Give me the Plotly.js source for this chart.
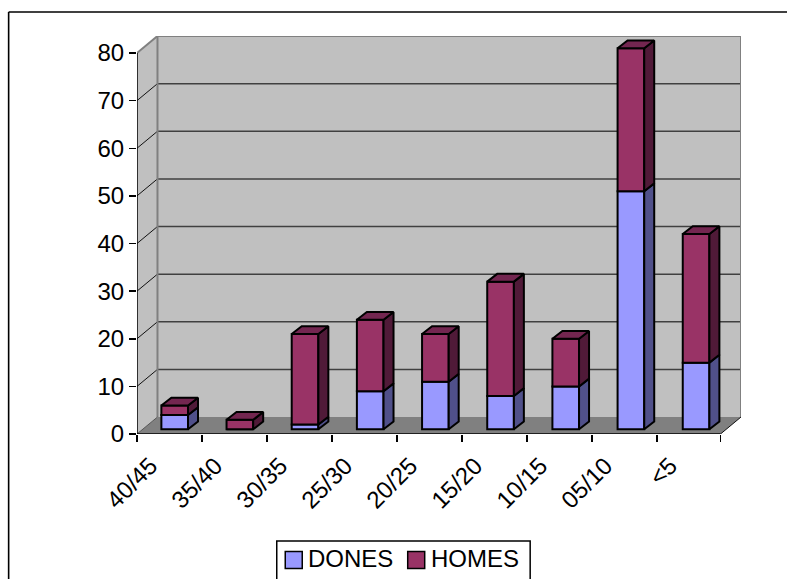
<!DOCTYPE html>
<html>
<head>
<meta charset="utf-8">
<script src="https://cdn.plot.ly/plotly-3.0.1.min.js"></script>
<style>html,body{margin:0;padding:0;background:#fff;overflow:hidden}</style>
</head>
<body>
<div id="chart" style="width:787px;height:579px"></div>
<script>
const categories = ['40/45','35/40','30/35','25/30','20/25','15/20','10/15','05/10','<5'];
const dones = [3, 0, 1, 8, 10, 7, 9, 50, 14];
const homes = [2, 2, 19, 15, 10, 24, 10, 30, 27];
const yTicks = [0,10,20,30,40,50,60,70,80];
const seriesNames = ['DONES','HOMES'];
const seriesColors = ['#9999ff','#993366'];

const W = 787, H = 579;
const left = 136.7, bottom = 434, pxCat = 65, pxUnit = 4.7625;
const wallDx = 20.5/pxCat, wallDy = 17/pxUnit;   // depth of the plot box, in axis units
const barDx = 10/pxCat, barDy = 7.8/pxUnit;      // depth of one bar, in axis units
const barBase = 4.7/pxUnit, barW = 0.41, barStart = 0.375, barPitch = 1.003;
const xEnd = 8.98, yEnd = 80;
const xMax = xEnd + wallDx, yMax = yEnd + wallDy;
const plotW = xMax*pxCat, plotH = yMax*pxUnit;
const labelShift = 19/pxCat;

const xl = categories.map((_,i)=> i*barPitch + barStart);
const xr = xl.map(v=> v + barW);
const xc = xl.map(v=> v + barW/2);

function stackBars(vals, under, color, name){
  return {type:'bar', x:xc, y:vals, base:under.map(u=>u+barBase), width:categories.map(()=>barW),
    name:name, showlegend:false, marker:{color:color, line:{color:'#000', width:2}}, hoverinfo:'skip'};
}
function poly(out, pts){ pts.forEach(p=>{out.x.push(p[0]); out.y.push(p[1]);}); out.x.push(pts[0][0]); out.y.push(pts[0][1]); out.x.push(null); out.y.push(null); }
function faceTrace(o, color){
  return {type:'scatter', mode:'lines', x:o.x, y:o.y, fill:'toself', fillcolor:color,
    line:{color:'#000', width:2}, showlegend:false, hoverinfo:'skip', cliponaxis:false};
}
const sideD = {x:[],y:[]}, sideH = {x:[],y:[]}, topH = {x:[],y:[]};
categories.forEach((_,i)=>{
  const b0 = barBase, t0 = barBase + dones[i], t1 = t0 + homes[i];
  if(dones[i] > 0) poly(sideD, [[xr[i],b0],[xr[i]+barDx,b0+barDy],[xr[i]+barDx,t0+barDy],[xr[i],t0]]);
  poly(sideH, [[xr[i],t0],[xr[i]+barDx,t0+barDy],[xr[i]+barDx,t1+barDy],[xr[i],t1]]);
  poly(topH, [[xl[i],t1],[xl[i]+barDx,t1+barDy],[xr[i]+barDx,t1+barDy],[xr[i],t1]]);
});

const traces = [
  stackBars(dones, dones.map(()=>0), seriesColors[0], seriesNames[0]),
  stackBars(homes, dones, seriesColors[1], seriesNames[1]),
  faceTrace(sideD, '#50508a'),
  faceTrace(sideH, '#501a38'),
  faceTrace(topH, '#732650')
];

function path(pts){ return 'M'+pts.map(p=>p[0]+','+p[1]).join('L')+'Z'; }
const shapes = [
  {type:'path', xref:'x', yref:'y', layer:'below', path:path([[0,0],[wallDx,wallDy],[xMax,wallDy],[xMax,yMax],[wallDx,yMax],[0,yEnd]]), fillcolor:'#c0c0c0', line:{width:0}},
  {type:'path', xref:'x', yref:'y', layer:'below', path:path([[0,0],[xEnd,0],[xMax,wallDy],[wallDx,wallDy]]), fillcolor:'#808080', line:{width:0}}
];
yTicks.slice(1,-1).forEach(v=>{
  shapes.push({type:'line', xref:'x', yref:'y', layer:'below', x0:wallDx, x1:xMax, y0:v+wallDy, y1:v+wallDy, line:{color:'#404040', width:1.5}});
  shapes.push({type:'line', xref:'x', yref:'y', layer:'below', x0:0, x1:wallDx, y0:v, y1:v+wallDy, line:{color:'#111', width:1}});
});
const grey = {color:'#808080', width:2};
shapes.push(
  {type:'line', xref:'x', yref:'y', layer:'below', x0:wallDx, x1:wallDx, y0:wallDy, y1:yMax, line:grey},
  {type:'line', xref:'x', yref:'y', layer:'below', x0:wallDx, x1:xMax, y0:yMax, y1:yMax, line:grey},
  {type:'line', xref:'x', yref:'y', layer:'below', x0:xMax, x1:xMax, y0:wallDy, y1:yMax, line:grey},
  {type:'line', xref:'x', yref:'y', layer:'below', x0:0, x1:wallDx, y0:yEnd, y1:yMax, line:grey},
  {type:'line', xref:'x', yref:'y', layer:'below', x0:0, x1:wallDx, y0:0, y1:wallDy, line:{color:'#555', width:1}},
  {type:'line', xref:'x', yref:'y', layer:'below', x0:xEnd, x1:xMax, y0:0, y1:wallDy, line:{color:'#111', width:1}},
  {type:'line', xref:'x', yref:'y', x0:0, x1:0, y0:0, y1:yEnd, line:{color:'#000', width:1.5}},
  {type:'line', xref:'x', yref:'y', x0:0, x1:xEnd, y0:0, y1:0, line:{color:'#000', width:1.5}}
);
// chart frame: open on the right and at the bottom
const px = v => (v-left)/plotW, py = v => (bottom-v)/plotH;
shapes.push(
  {type:'line', xref:'paper', yref:'paper', x0:px(8.3), x1:px(8.3), y0:py(12), y1:py(H), line:{color:'#000', width:1.6}},
  {type:'line', xref:'paper', yref:'paper', x0:px(8.3), x1:px(W), y0:py(12), y1:py(12), line:{color:'#000', width:1.6}}
);

const font = {family:'"Liberation Sans", Arial, sans-serif', size:24, color:'#000'};

// legend box, running off the bottom of the page as in the reference
shapes.push({type:'rect', xref:'paper', yref:'paper', x0:px(276.5), x1:px(530), y0:py(541), y1:py(H+6), fillcolor:'#fff', line:{color:'#000', width:1.5}});
const legendSwatchX = [285, 407.5], legendTextX = [307, 430];
const annotations = [];
seriesNames.forEach((n,i)=>{
  shapes.push({type:'rect', xref:'paper', yref:'paper', x0:px(legendSwatchX[i]), x1:px(legendSwatchX[i]+17), y0:py(551.5), y1:py(568.5),
    fillcolor:seriesColors[i], line:{color:'#000', width:1.5}});
  annotations.push({xref:'paper', yref:'paper', x:px(legendTextX[i]), y:py(558.5), xanchor:'left', yanchor:'middle',
    text:n, showarrow:false, font:font, borderpad:0});
});

const layout = {
  width:W, height:H, showlegend:false, barmode:'overlay', hovermode:false,
  paper_bgcolor:'#fff', plot_bgcolor:'#fff', font:font,
  margin:{l:left, r:W-left-plotW, t:bottom-plotH, b:H-bottom, pad:0, autoexpand:false},
  xaxis:{range:[0,xMax], autorange:false, showgrid:false, zeroline:false, showline:false, fixedrange:true,
    tickmode:'array', tickvals:categories.map((_,i)=>i+0.5-labelShift), ticktext:categories, ticks:'', tickangle:-45, tickfont:font, ticklabelstandoff:12,
    minor:{tickmode:'array', tickvals:categories.map((_,i)=>i).concat([xEnd]), ticks:'outside', ticklen:7, tickwidth:1.5, tickcolor:'#000', showgrid:false}},
  yaxis:{range:[0,yMax], autorange:false, showgrid:false, zeroline:false, showline:false, fixedrange:true,
    tickmode:'array', tickvals:yTicks, ticktext:yTicks.map(String), ticks:'outside', ticklen:7, tickwidth:1.5, tickcolor:'#000', tickfont:font},
  shapes:shapes, annotations:annotations
};
Plotly.newPlot('chart', traces, layout, {displayModeBar:false, staticPlot:true});
</script>
</body>
</html>
